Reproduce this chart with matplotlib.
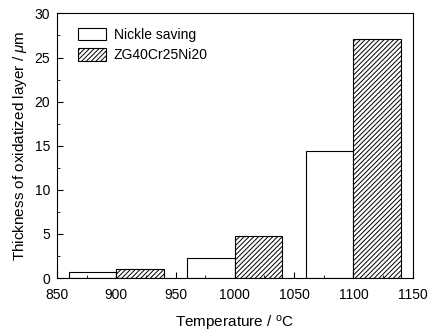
import matplotlib
matplotlib.use("Agg")
import matplotlib.pyplot as plt
from matplotlib.ticker import MultipleLocator

plt.rcParams['font.family'] = ['Liberation Sans', 'DejaVu Sans']
plt.rcParams['mathtext.fontset'] = 'custom'
plt.rcParams['mathtext.rm'] = 'Liberation Sans'
plt.rcParams['mathtext.it'] = 'Liberation Sans:italic'
plt.rcParams['hatch.linewidth'] = 0.7

# data
temps = [900, 1000, 1100]
nickle_saving = [0.7, 2.3, 14.4]
zg40 = [1.0, 4.8, 27.1]
bar_w = 40

fig = plt.figure(figsize=(4.41, 3.35), dpi=100)
ax = fig.add_axes([0.129, 0.17, 0.807, 0.79])

ax.bar([t - bar_w for t in temps], nickle_saving, width=bar_w, align='edge',
       color='white', edgecolor='black', linewidth=0.8, label='Nickle saving')
ax.bar(temps, zg40, width=bar_w, align='edge', color='white',
       edgecolor='black', linewidth=0.8, hatch='///////', label='ZG40Cr25Ni20')

ax.set_xlim(850, 1150)
ax.set_ylim(0, 30)
ax.xaxis.set_major_locator(MultipleLocator(50))
ax.xaxis.set_minor_locator(MultipleLocator(25))
ax.yaxis.set_major_locator(MultipleLocator(5))
ax.yaxis.set_minor_locator(MultipleLocator(2.5))
ax.tick_params(which='both', direction='in', top=False, right=False, labelsize=10)
ax.tick_params(which='major', length=4)
ax.tick_params(which='minor', length=2)
ax.tick_params(axis='x', pad=7)
ax.tick_params(axis='y', pad=5)
for s in ax.spines.values():
    s.set_linewidth(0.8)

ax.set_xlabel('Temperature / $^{\\mathrm{o}}$C', fontsize=11, labelpad=9)
ax.set_ylabel('Thickness of oxidatized layer / $\\mathit{\\mu}$m', fontsize=11)

ax.legend(loc='upper left', frameon=False, fontsize=10, handlelength=2.0,
          handleheight=1.0, borderpad=0, borderaxespad=0, labelspacing=0.45,
          handletextpad=0.6, bbox_to_anchor=(0.059, 0.945))

fig.savefig('out.png', dpi=100)
